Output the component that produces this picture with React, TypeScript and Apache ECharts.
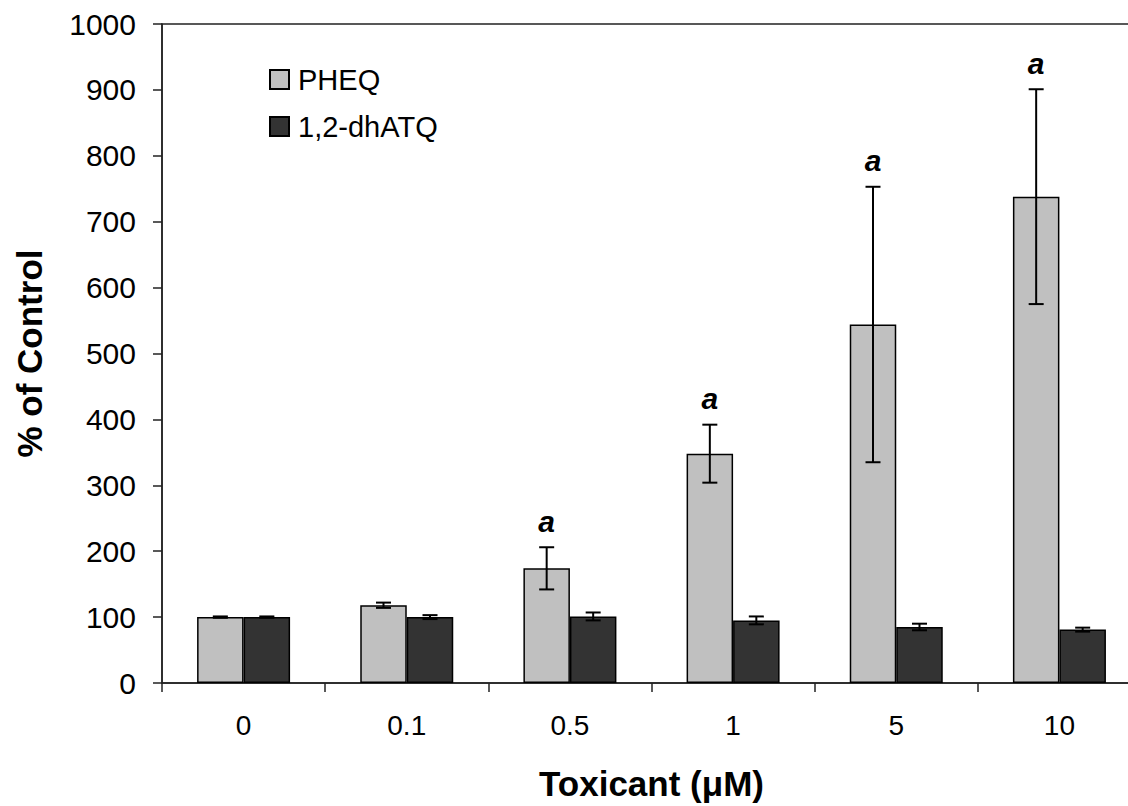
import React, { useEffect, useRef } from "react";
import * as echarts from "echarts";

// Toxicant concentrations (µM) on the category axis
const categories = ["0", "0.1", "0.5", "1", "5", "10"];

// Mean response, % of control, with error-bar half widths
const pheqValues = [100, 118, 174, 348, 544, 738];
const pheqErrors = [1, 4, 32, 44, 209, 163];
const dhatqValues = [100, 100, 101, 95, 85, 81];
const dhatqErrors = [1, 3, 6, 6, 5, 3];

// Significance marks shown above the PHEQ bars
const pheqMarks = ["", "", "a", "a", "a", "a"];

const yTicks = { min: 0, max: 1000, interval: 100 };

const FONT = "'Liberation Sans', Arial, Helvetica, sans-serif";
const BAR_WIDTH = 46.5;
const CAP_HALF = 7.5;

function errorSeries(
  name: string,
  values: number[],
  errors: number[],
  marks: string[] | null,
  side: number
) {
  const data = values.map((v, i) => [i, v - errors[i], v + errors[i], marks ? marks[i] : ""]);
  return {
    type: "custom",
    name: name + " error",
    coordinateSystem: "cartesian2d",
    encode: { x: 0, y: [1, 2] },
    z: 5,
    silent: true,
    data,
    renderItem: (params: any, api: any) => {
      const idx = api.value(0);
      const lo = api.coord([idx, api.value(1)]);
      const hi = api.coord([idx, api.value(2)]);
      const x = lo[0] + side * (BAR_WIDTH / 2);
      const style = { stroke: "#000", lineWidth: 2 };
      const children: any[] = [
        { type: "line", shape: { x1: x, y1: lo[1], x2: x, y2: hi[1] }, style },
        { type: "line", shape: { x1: x - CAP_HALF, y1: hi[1], x2: x + CAP_HALF, y2: hi[1] }, style },
        { type: "line", shape: { x1: x - CAP_HALF, y1: lo[1], x2: x + CAP_HALF, y2: lo[1] }, style },
      ];
      const mark = data[params.dataIndex][3] as string;
      if (mark) {
        children.push({
          type: "text",
          style: {
            text: mark,
            x,
            y: hi[1] - 26,
            align: "center",
            verticalAlign: "middle",
            fontFamily: FONT,
            fontSize: 30,
            fontWeight: "bold",
            fontStyle: "italic",
            fill: "#000",
          },
        });
      }
      return { type: "group", children };
    },
  };
}

export default function App() {
  const ref = useRef<HTMLDivElement>(null);

  useEffect(() => {
    if (!ref.current) return;
    const chart = echarts.init(ref.current, null, { renderer: "svg" });
    chart.setOption({
      animation: false,
      backgroundColor: "#fff",
      textStyle: { fontFamily: FONT },
      grid: {
        left: 162,
        top: 24,
        right: 19,
        bottom: 122,
        show: true,
        borderColor: "#222",
        borderWidth: 1.5,
      },
      legend: {
        orient: "vertical",
        left: 269,
        top: 65,
        padding: 0,
        itemWidth: 19,
        itemHeight: 19,
        itemGap: 18,
        icon: "rect",
        data: ["PHEQ", "1,2-dhATQ"],
        textStyle: { fontFamily: FONT, fontSize: 29, color: "#000", padding: [0, 0, 0, 4] },
      },
      xAxis: {
        type: "category",
        data: categories,
        boundaryGap: true,
        axisLine: { lineStyle: { color: "#222", width: 1.5 } },
        axisTick: { show: true, length: 9, lineStyle: { color: "#222", width: 1.5 } },
        axisLabel: { fontFamily: FONT, fontSize: 28, color: "#000", margin: 28 },
        name: "Toxicant (μM)",
        nameLocation: "middle",
        nameGap: 83,
        nameTextStyle: { fontFamily: FONT, fontSize: 35, fontWeight: "bold", color: "#000" },
      },
      yAxis: {
        type: "value",
        min: yTicks.min,
        max: yTicks.max,
        interval: yTicks.interval,
        splitLine: { show: false },
        axisLine: { show: true, lineStyle: { color: "#222", width: 1.5 } },
        axisTick: { show: true, length: 9, lineStyle: { color: "#222", width: 1.5 } },
        axisLabel: {
          fontFamily: FONT,
          fontSize: 30,
          color: "#000",
          margin: 26,
          formatter: (v: number) => String(v),
        },
        name: "% of Control",
        nameLocation: "middle",
        nameGap: 115,
        nameTextStyle: { fontFamily: FONT, fontSize: 35, fontWeight: "bold", color: "#000" },
      },
      series: [
        {
          type: "bar",
          name: "PHEQ",
          data: pheqValues,
          barWidth: BAR_WIDTH,
          barGap: "0%",
          itemStyle: { color: "#c0c0c0", borderColor: "#000", borderWidth: 1.5 },
        },
        {
          type: "bar",
          name: "1,2-dhATQ",
          data: dhatqValues,
          barWidth: BAR_WIDTH,
          barGap: "0%",
          itemStyle: { color: "#333333", borderColor: "#000", borderWidth: 1.5 },
        },
        errorSeries("PHEQ", pheqValues, pheqErrors, pheqMarks, -1),
        errorSeries("1,2-dhATQ", dhatqValues, dhatqErrors, null, 1),
      ],
    });
    return () => chart.dispose();
  }, []);

  return (
    <div
      ref={ref}
      style={{ position: "fixed", left: 0, top: 0, width: 1160, height: 806, background: "#fff" }}
    />
  );
}
